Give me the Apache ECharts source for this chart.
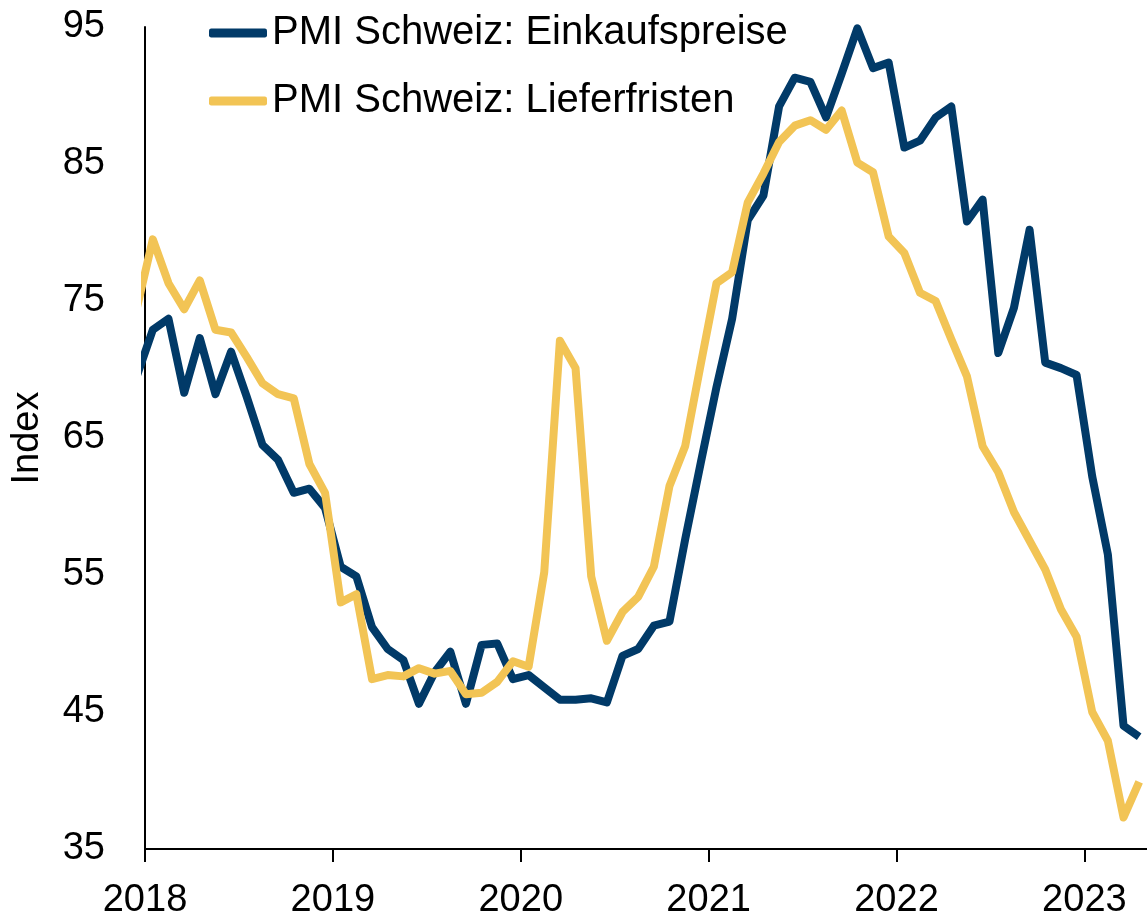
<!DOCTYPE html>
<html>
<head>
<meta charset="utf-8">
<script src="https://cdn.jsdelivr.net/npm/echarts@6/dist/echarts.min.js"></script>
<style>
  html, body { margin: 0; padding: 0; background: #fff; }
  #chart { width: 1147px; height: 920px; }
</style>
</head>
<body>
<div id="chart"></div>
<script>
'use strict';
// Monatswerte Dez 2017 .. Apr 2023 (Dez 2017 liegt links ausserhalb und wird abgeschnitten)
const einkaufspreise = [
    69.6,
    72.9, 73.7, 68.3, 72.3, 68.2, 71.3, 68.0, 64.5, 63.4, 61.0, 61.3, 59.9,
    55.6, 54.9, 51.2, 49.6, 48.8, 45.6, 47.9, 49.4, 45.6, 49.9, 50.0, 47.4,
    47.7, 46.8, 45.9, 45.9, 46.0, 45.7, 49.1, 49.6, 51.3, 51.6, 57.6, 63.2,
    68.7, 73.7, 80.9, 82.7, 89.2, 91.3, 91.0, 88.4, 91.6, 94.9, 92.0, 92.4,
    86.2, 86.7, 88.4, 89.2, 80.8, 82.4, 71.2, 74.5, 80.2, 70.5, 70.1, 69.6,
    62.2, 56.5, 44.0, 43.2
];
const lieferfristen = [
    74.6,
    79.5, 76.3, 74.4, 76.5, 72.9, 72.7, 70.9, 69.0, 68.2, 67.9, 63.1, 61.0,
    53.0, 53.6, 47.4, 47.7, 47.6, 48.2, 47.8, 48.0, 46.3, 46.4, 47.2, 48.7,
    48.3, 55.2, 72.1, 70.1, 54.9, 50.2, 52.3, 53.4, 55.6, 61.5, 64.4, 70.4,
    76.3, 77.1, 82.2, 84.3, 86.6, 87.8, 88.2, 87.5, 88.9, 85.1, 84.4, 79.7,
    78.5, 75.6, 75.0, 72.2, 69.5, 64.4, 62.5, 59.6, 57.5, 55.4, 52.5, 50.5,
    45.0, 42.9, 37.3, 39.9
];
const yearLabels = ['2018', '2019', '2020', '2021', '2022', '2023'];

// x = Monate seit Jan 2018, Werte jeweils Monatsmitte
function toPoints(values) {
    return values.map(function (v, i) { return [i - 0.5, v]; });
}

let dom = document.getElementById('chart');
let myChart = echarts.init(dom);
let fontFamily = '"Liberation Sans", Arial, sans-serif';

let option = {
    animation: false,
    textStyle: { fontFamily: fontFamily, color: '#000' },
    grid: { left: 145, right: -1, top: 27, bottom: 70, containLabel: false },
    legend: {
        orient: 'vertical',
        left: 204,
        top: 8,
        itemGap: 28,
        itemWidth: 58,
        itemHeight: 9,
        icon: 'roundRect',
        textStyle: { fontSize: 40, color: '#000', fontFamily: fontFamily },
        data: ['PMI Schweiz: Einkaufspreise', 'PMI Schweiz: Lieferfristen']
    },
    xAxis: {
        type: 'value',
        min: 0,
        max: 64,
        interval: 12,
        splitLine: { show: false },
        axisLine: { lineStyle: { color: '#000', width: 2 } },
        axisTick: {
            show: true, length: 13, inside: false,
            lineStyle: { color: '#000', width: 2 }
        },
        axisLabel: {
            fontSize: 38, color: '#000', margin: 33,
            showMaxLabel: false,
            formatter: function (v) {
                return v % 12 === 0 ? (yearLabels[v / 12] || '') : '';
            }
        }
    },
    yAxis: {
        type: 'value',
        min: 35,
        max: 95,
        interval: 10,
        name: 'Index',
        nameLocation: 'middle',
        nameGap: 98,
        nameTextStyle: { fontSize: 38, color: '#000' },
        splitLine: { show: false },
        axisLine: { show: true, lineStyle: { color: '#000', width: 2 } },
        axisTick: { show: false },
        axisLabel: { fontSize: 38, color: '#000', margin: 40 }
    },
    series: [{
        name: 'PMI Schweiz: Einkaufspreise',
        type: 'line',
        data: toPoints(einkaufspreise),
        showSymbol: false,
        symbol: 'none',
        clip: true,
        color: '#013a68',
        lineStyle: { width: 8, color: '#013a68', join: 'round' }
    }, {
        name: 'PMI Schweiz: Lieferfristen',
        type: 'line',
        data: toPoints(lieferfristen),
        showSymbol: false,
        symbol: 'none',
        clip: true,
        color: '#f2c455',
        lineStyle: { width: 8, color: '#f2c455', join: 'round' }
    }]
};

if (option && typeof option === 'object') {
    myChart.setOption(option, true);
}
</script>
</body>
</html>
